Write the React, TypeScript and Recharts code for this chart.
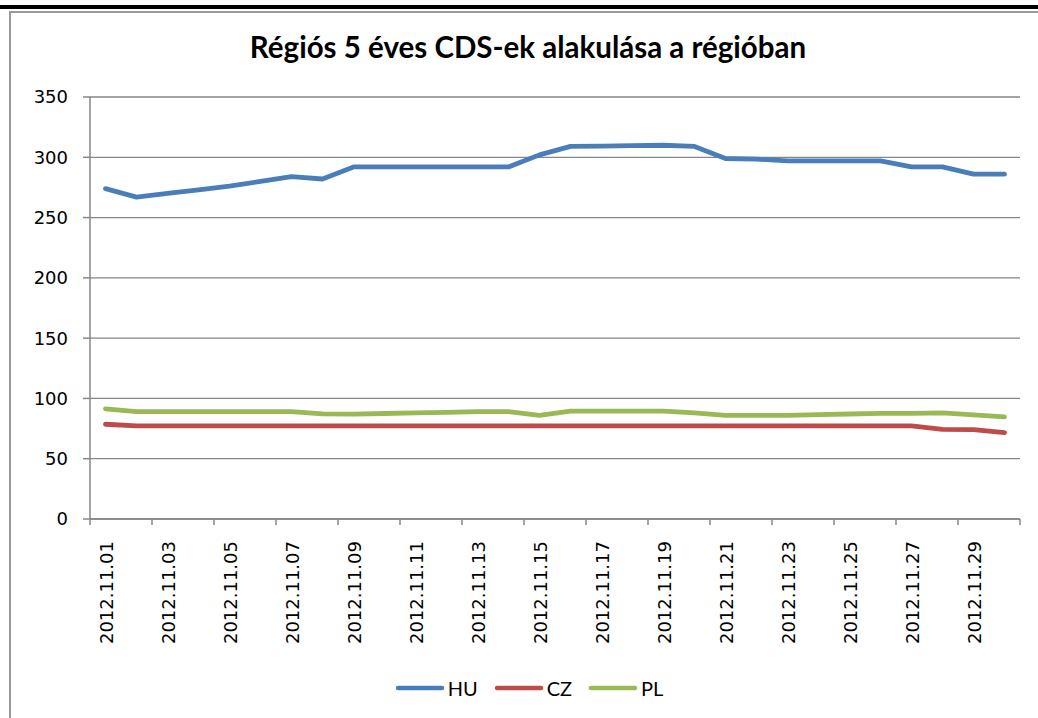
import React from "react";
import { CartesianGrid, Legend, Line, LineChart, XAxis, YAxis } from "recharts";

const dates = [
  "2012.11.01", "2012.11.02", "2012.11.03", "2012.11.04", "2012.11.05",
  "2012.11.06", "2012.11.07", "2012.11.08", "2012.11.09", "2012.11.10",
  "2012.11.11", "2012.11.12", "2012.11.13", "2012.11.14", "2012.11.15",
  "2012.11.16", "2012.11.17", "2012.11.18", "2012.11.19", "2012.11.20",
  "2012.11.21", "2012.11.22", "2012.11.23", "2012.11.24", "2012.11.25",
  "2012.11.26", "2012.11.27", "2012.11.28", "2012.11.29", "2012.11.30",
];

const hu = [
  274, 267, 270, 273, 276, 280, 284, 282, 292, 292,
  292, 292, 292, 292, 302, 309, 309.3, 309.6, 310, 309,
  299, 298.5, 297, 297, 297, 297, 292, 292, 286, 286,
];
const cz = [
  78.6, 77.3, 77.3, 77.3, 77.3, 77.3, 77.3, 77.3, 77.3, 77.3,
  77.3, 77.3, 77.3, 77.3, 77.3, 77.3, 77.3, 77.3, 77.3, 77.3,
  77.3, 77.3, 77.3, 77.3, 77.3, 77.3, 77.3, 74.4, 74.2, 71.7,
];
const pl = [
  91.4, 89, 89, 89, 89, 89, 89, 87.2, 87, 87.5,
  88, 88.5, 89, 89, 86, 89.4, 89.4, 89.4, 89.4, 88,
  86, 86, 86, 86.6, 87.1, 87.6, 87.6, 88, 86.4, 84.7,
];

const yTicks = [0, 50, 100, 150, 200, 250, 300, 350];
// labels sit on odd days, tick marks sit between categories every 2 days
const labelDays = [1, 3, 5, 7, 9, 11, 13, 15, 17, 19, 21, 23, 25, 27, 29];
const tickMarks = [0.5, 2.5, 4.5, 6.5, 8.5, 10.5, 12.5, 14.5, 16.5, 18.5, 20.5, 22.5, 24.5, 26.5, 28.5, 30.5];

const series = [
  { key: "HU", color: "#4A7EBB", values: hu },
  { key: "CZ", color: "#BE4B48", values: cz },
  { key: "PL", color: "#98B954", values: pl },
];

const data = dates.map((d, i) => ({
  day: i + 1,
  date: d,
  HU: hu[i],
  CZ: cz[i],
  PL: pl[i],
}));

const xTicks = [...labelDays, ...tickMarks].sort((a, b) => a - b);

const AXIS = "#868686";
const AXIS_FONT = '"DejaVu Sans", Verdana, sans-serif';
const CALIBRI = 'Lato, "Open Sans", sans-serif';

const DateTick = (props: any) => {
  const { x, y, payload } = props;
  const v = payload.value;
  if (v % 1 !== 0) {
    return <line x1={x} x2={x} y1={y} y2={y + 6} stroke={AXIS} strokeWidth={1.5} />;
  }
  return (
    <text
      transform={`translate(${x + 1},${y + 22}) rotate(-90)`}
      textAnchor="end"
      dominantBaseline="central"
      fontSize={18}
      fontFamily={AXIS_FONT}
      fill="#000"
    >
      {dates[v - 1]}
    </text>
  );
};

const LegendBox = () => (
  <div
    style={{
      display: "flex",
      justifyContent: "center",
      alignItems: "center",
      height: 30,
      paddingLeft: 54,
      fontFamily: CALIBRI,
      fontSize: 20,
      color: "#000",
    }}
  >
    {series.map((s) => (
      <div key={s.key} style={{ display: "flex", alignItems: "center", marginRight: 16 }}>
        <svg width={50} height={8} style={{ marginRight: 3 }}>
          <line x1={3} x2={47} y1={4} y2={4} stroke={s.color} strokeWidth={4.5} strokeLinecap="round" />
        </svg>
        <span>{s.key}</span>
      </div>
    ))}
  </div>
);

export default function App() {
  return (
    <div
      style={{
        position: "absolute",
        left: 0,
        top: 0,
        width: 1038,
        height: 718,
        overflow: "hidden",
        background: "#fff",
      }}
    >
      <div style={{ position: "absolute", left: 0, top: 5, width: 1038, height: 4, background: "#000" }} />
      <div
        style={{
          position: "absolute",
          left: 9,
          top: 11,
          width: 1100,
          height: 800,
          borderLeft: "2px solid #999",
          borderTop: "2px solid #999",
        }}
      />
      <div
        style={{
          position: "absolute",
          left: 0,
          top: 29,
          width: 1056,
          textAlign: "center",
          fontFamily: CALIBRI,
          fontWeight: "bold",
          fontSize: 29.5,
          color: "#000",
        }}
      >
        Régiós 5 éves CDS-ek alakulása a régióban
      </div>
      <div style={{ position: "absolute", left: 0, top: 0 }}>
        <LineChart width={1038} height={718} data={data} margin={{ top: 97, right: 18, bottom: 15, left: 0 }}>
          <CartesianGrid horizontal vertical={false} stroke={AXIS} strokeWidth={1.3} />
          <XAxis
            dataKey="day"
            type="number"
            domain={[0.5, 30.5]}
            ticks={xTicks}
            interval={0}
            tickLine={false}
            tickSize={0}
            tickMargin={0}
            tick={<DateTick />}
            axisLine={{ stroke: AXIS, strokeWidth: 1.5 }}
            height={154}
          />
          <YAxis
            domain={[0, 350]}
            ticks={yTicks}
            interval={0}
            width={90}
            tickSize={7}
            tickMargin={15}
            tickLine={{ stroke: AXIS, strokeWidth: 1.5 }}
            axisLine={{ stroke: AXIS, strokeWidth: 1.5 }}
            tick={{ fontSize: 18, fontFamily: AXIS_FONT, fill: "#000" }}
          />
          <Legend verticalAlign="bottom" content={<LegendBox />} />
          {series.map((s) => (
            <Line
              key={s.key}
              dataKey={s.key}
              type="linear"
              stroke={s.color}
              strokeWidth={4.8}
              strokeLinecap="round"
              strokeLinejoin="round"
              dot={false}
              activeDot={false}
              isAnimationActive={false}
            />
          ))}
        </LineChart>
      </div>
    </div>
  );
}
